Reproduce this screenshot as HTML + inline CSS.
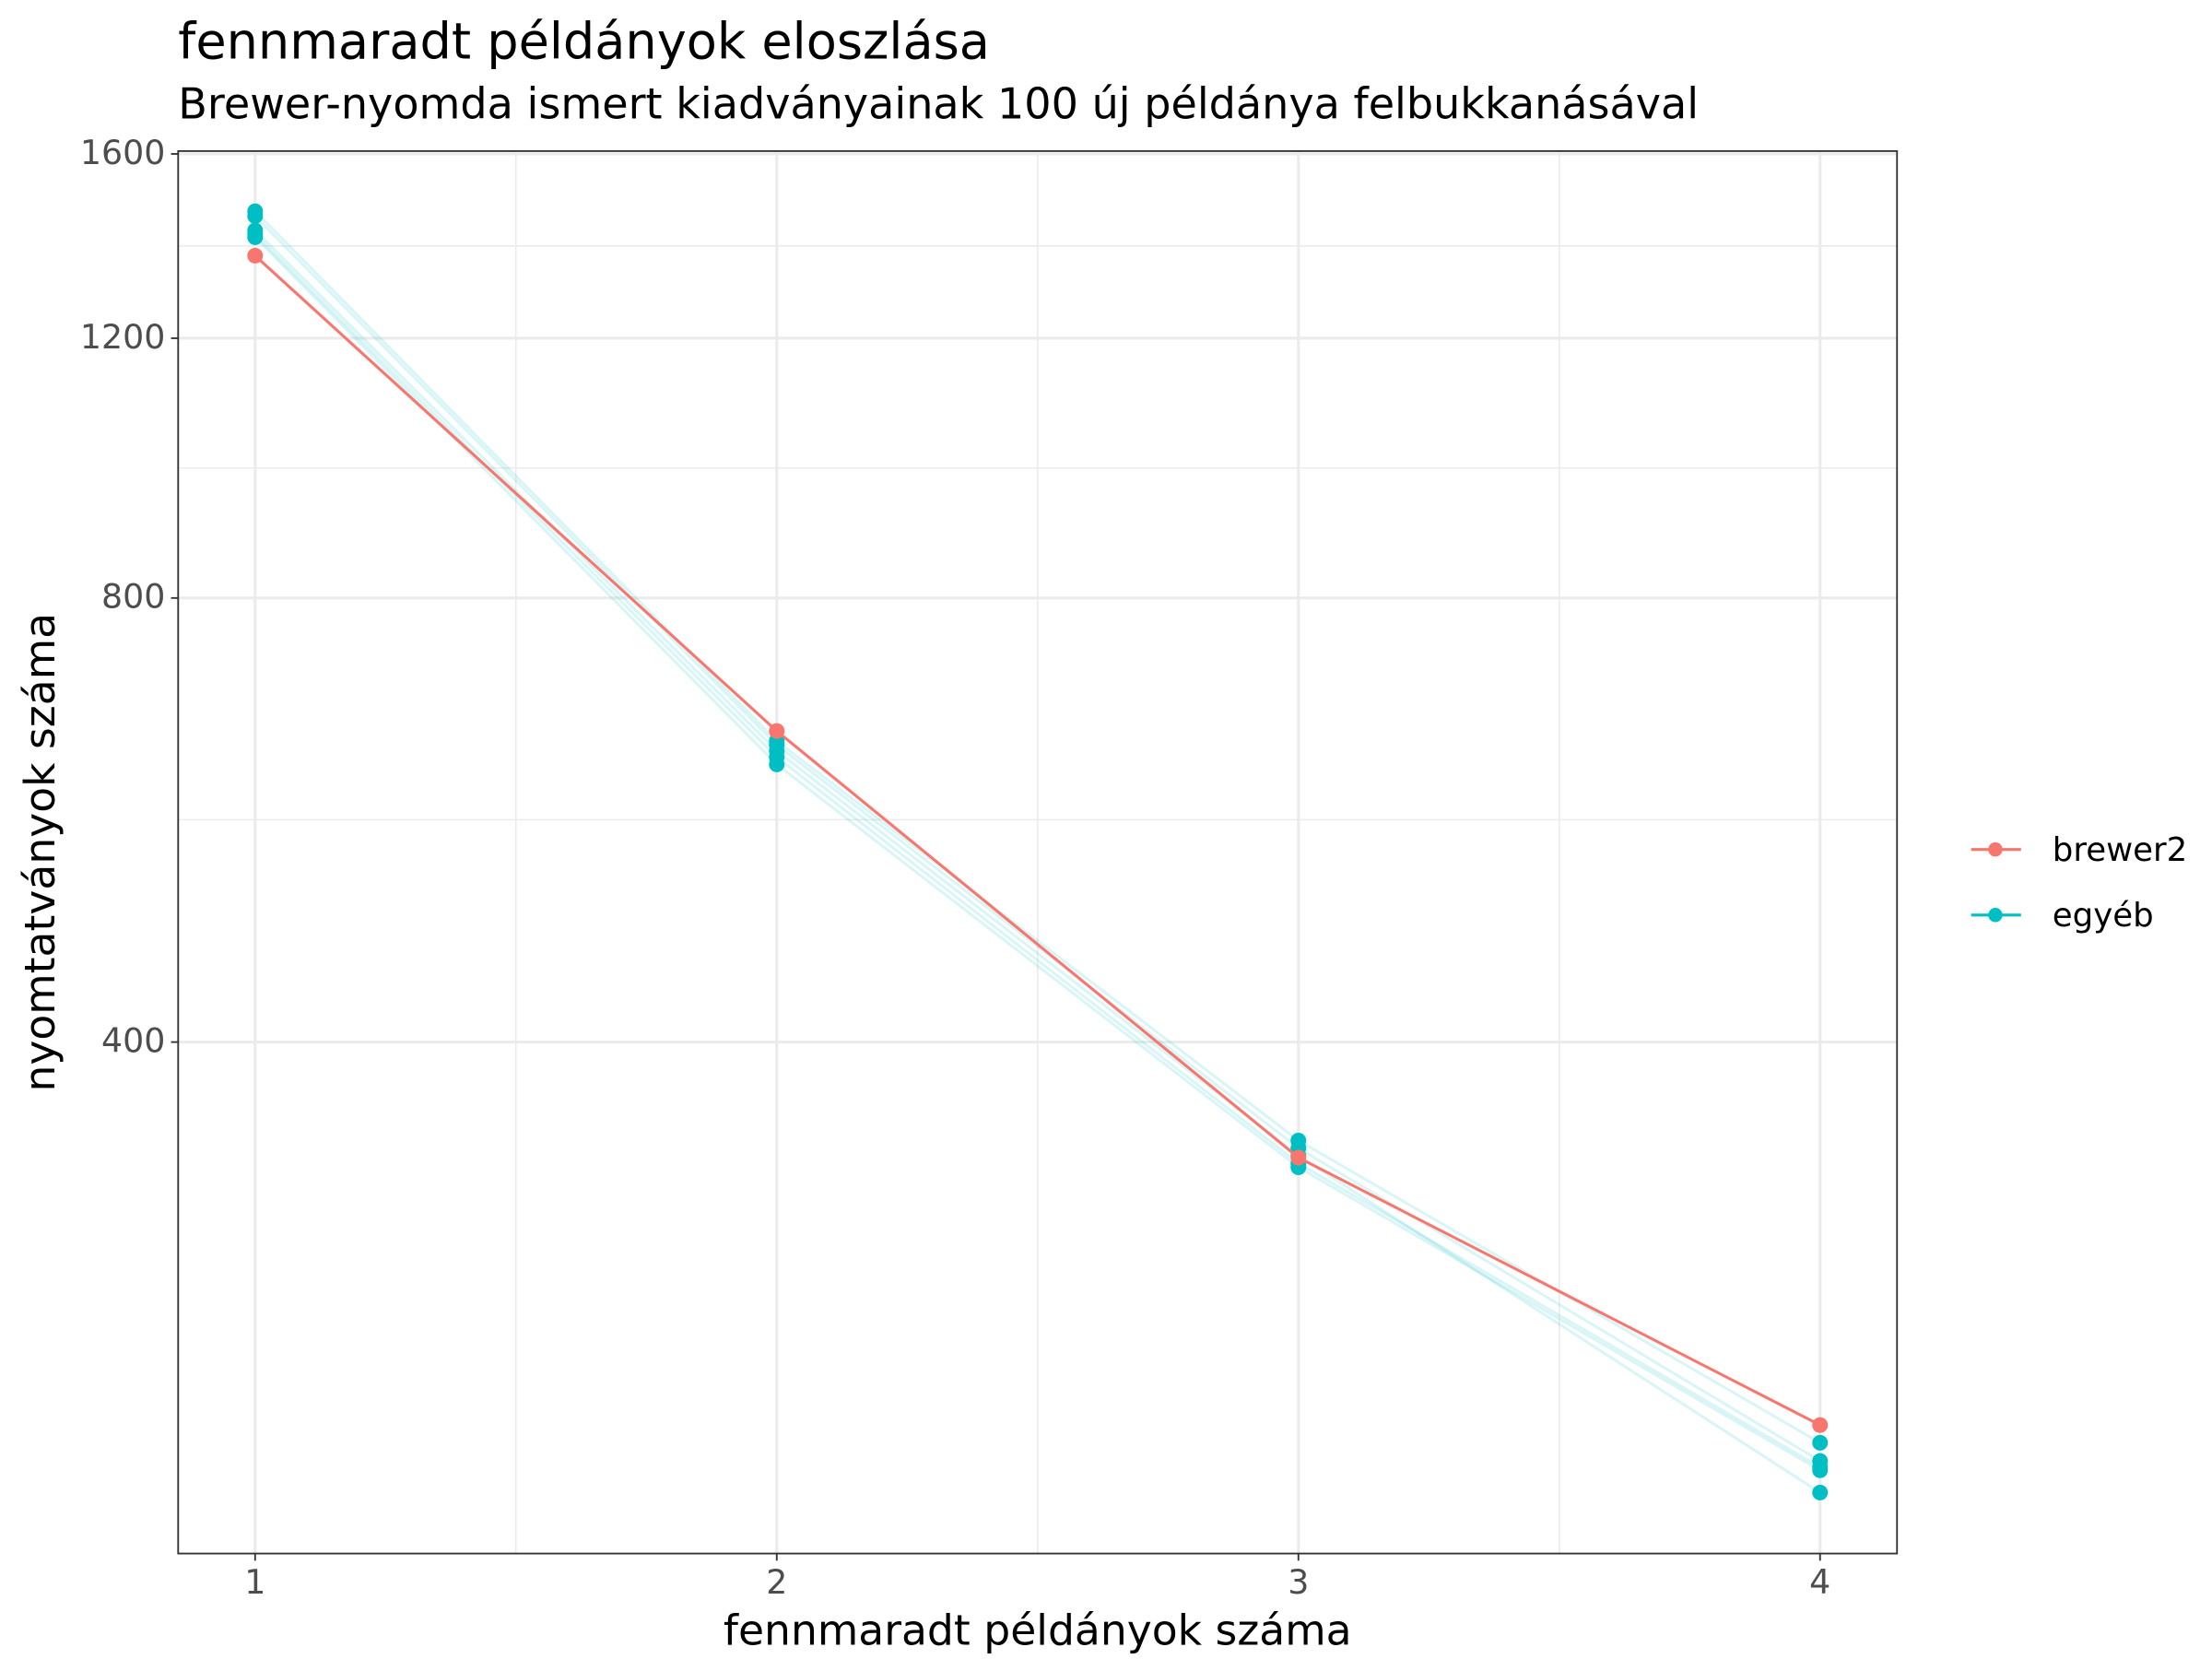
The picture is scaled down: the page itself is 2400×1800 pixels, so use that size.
<!DOCTYPE html>
<html><head><meta charset="utf-8"><style>
html,body{margin:0;padding:0;background:#fff;}
svg{display:block;font-family:"DejaVu Sans","Liberation Sans",sans-serif;}
</style></head><body>
<svg id="chart" width="2400" height="1800" viewBox="0 0 1552 1164" xmlns="http://www.w3.org/2000/svg">
<rect width="1552" height="1164" fill="#fff"/>
<text x="125" y="41" font-size="35" fill="#000">fennmaradt példányok eloszlása</text>
<text x="125" y="83" font-size="29.8" fill="#000">Brewer-nyomda ismert kiadványainak 100 új példánya felbukkanásával</text>
<g id="grid"></g>
<g id="series"></g>
<rect x="125" y="106" width="1206" height="984" fill="none" stroke="#333" stroke-width="1.2"/>
<g id="axes"></g>
<text x="728" y="1154" font-size="29.5" text-anchor="middle" fill="#000">fennmaradt példányok száma</text>
<text transform="translate(38,598) rotate(-90)" font-size="29.5" text-anchor="middle" fill="#000">nyomtatványok száma</text>
<g>
<g>
<line x1="1383" y1="596" x2="1418" y2="596" stroke="#F8766D" stroke-width="2"/>
<circle cx="1400" cy="596" r="5" fill="#F8766D"/>
<text x="1440" y="604" font-size="23" fill="#000">brewer2</text></g>
<g>
<line x1="1383" y1="642" x2="1418" y2="642" stroke="#00BFC4" stroke-width="2"/>
<circle cx="1400" cy="642" r="5" fill="#00BFC4"/>
<text x="1440" y="650" font-size="23" fill="#000">egyéb</text></g>
</g>
</svg>
<script>
const categories = [1, 2, 3, 4];
const brewer2 = [1365, 650, 334, 220];
const egyeb1 = [1463, 640, 343, 214];
const egyeb2 = [1452, 636, 339, 208];
const egyeb3 = [1411, 624, 331, 206];
const egyeb4 = [1405, 617, 329, 205];
const egyeb5 = [1420, 630, 335, 198];
const yTicks = [400, 800, 1200, 1600];
const yMinor = [566, 980, 1386];
const xTicks = [1, 2, 3, 4];
const xMinor = [1.5, 2.5, 3.5];

const NS = "http://www.w3.org/2000/svg";
function xs(v){ return 179 + (v - 1) * 366; }
function ys(v){ return 108 - Math.log(v / 1600) * 449.5; }
function mk(tag, attrs, parent){
  const e = document.createElementNS(NS, tag);
  for (const k in attrs) e.setAttribute(k, attrs[k]);
  parent.appendChild(e); return e;
}
const grid = document.getElementById('grid');
const axes = document.getElementById('axes');
const series = document.getElementById('series');
yMinor.forEach(v => {
  const l = mk('line', {x1:125, x2:1331, y1:ys(v), y2:ys(v), stroke:'#ebebeb', 'stroke-width':1}, grid);
  
  
});
xMinor.forEach(v => {
  const l = mk('line', {x1:xs(v), x2:xs(v), y1:106, y2:1090, stroke:'#ebebeb', 'stroke-width':1}, grid);
  
  
});
yTicks.forEach(v => {
  const y = ys(v);
  const l = mk('line', {x1:125, x2:1331, y1:y, y2:y, stroke:'#ebebeb', 'stroke-width':2}, grid);
  
  
  const t = mk('line', {x1:120, x2:125, y1:y, y2:y, stroke:'#333', 'stroke-width':1.2}, axes);
  
  
  const tx = mk('text', {x:116, y:y+7, 'font-size':23.5, 'text-anchor':'end', fill:'#4d4d4d'}, axes);
  tx.textContent = v;
  
  
});
xTicks.forEach(v => {
  const x = xs(v);
  const l = mk('line', {x1:x, x2:x, y1:106, y2:1090, stroke:'#ebebeb', 'stroke-width':2}, grid);
  
  
  const t = mk('line', {x1:x, x2:x, y1:1090, y2:1095, stroke:'#333', 'stroke-width':1.2}, axes);
  
  
  const tx = mk('text', {x:x, y:1118, 'font-size':23.5, 'text-anchor':'middle', fill:'#4d4d4d'}, axes);
  tx.textContent = v;
  
  
});
function draw(vals, color, opacity, name){
  const pts = categories.map((c,i) => xs(c)+','+ys(vals[i])).join(' ');
  const pl = mk('polyline', {points:pts, fill:'none', stroke:color, 'stroke-width':2, 'stroke-opacity':opacity}, series);
  
  
  categories.forEach((c,i) => {
    const p = mk('circle', {cx:xs(c), cy:ys(vals[i]), r:5.5, fill:color}, series);
    
    
  });
}
[egyeb1, egyeb2, egyeb3, egyeb4, egyeb5].forEach((s,i) => draw(s, '#00BFC4', 0.15, 'egyeb-' + (i+1)));
draw(brewer2, '#F8766D', 1, 'brewer2');
</script>
</body></html>
